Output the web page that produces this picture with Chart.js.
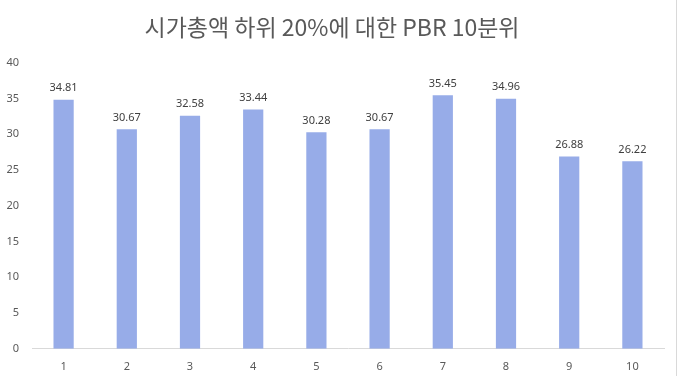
<!DOCTYPE html>
<html>
<head>
<meta charset="utf-8">
<script src="https://cdn.jsdelivr.net/npm/chart.js@4/dist/chart.umd.min.js"></script>
<style>
  html, body { margin: 0; padding: 0; background: #fff; }
  #wrap { position: relative; width: 680px; height: 376px; }
  #edge { position: absolute; left: 676px; top: 0; width: 1px; height: 376px; background: #d9d9d9; }
</style>
</head>
<body>
<div id="wrap">
  <canvas id="grafica" width="680" height="376"></canvas>
  <div id="edge"></div>
</div>
<script>
const titulo = "시가총액 하위 20%에 대한 PBR 10분위";
const deciles = ["1", "2", "3", "4", "5", "6", "7", "8", "9", "10"];
const pbr = [34.81, 30.67, 32.58, 33.44, 30.28, 30.67, 35.45, 34.96, 26.88, 26.22];

// etiquetas sobre cada barra
const etiquetas = {
  id: "etiquetas",
  afterDatasetsDraw(chart) {
    const c = chart.ctx;
    const meta = chart.getDatasetMeta(0);
    c.save();
    c.font = "11px 'Noto Sans'";
    c.fillStyle = "#404040";
    c.textAlign = "center";
    c.textBaseline = "bottom";
    meta.data.forEach((bar, i) => {
      c.fillText(pbr[i].toFixed(2), bar.x, bar.y - 6);
    });
    c.restore();
  }
};

new Chart(document.getElementById("grafica").getContext("2d"), {
  type: "bar",
  data: {
    labels: deciles,
    datasets: [{
      data: pbr,
      backgroundColor: "#97ace8",
      categoryPercentage: 1,
      barPercentage: 0.32
    }]
  },
  options: {
    responsive: false,
    animation: false,
    layout: { padding: { top: 8, right: 16, left: 0, bottom: 0 } },
    plugins: {
      legend: { display: false },
      tooltip: { enabled: false },
      title: {
        display: true,
        text: titulo,
        color: "#595959",
        font: { family: "'Noto Sans CJK KR'", size: 23, weight: "normal" },
        padding: { top: 5, bottom: 22 }
      }
    },
    scales: {
      x: {
        grid: { display: false },
        border: { color: "#d9d9d9" },
        ticks: { color: "#595959", font: { family: "'Noto Sans'", size: 11 }, padding: 3 }
      },
      y: {
        min: 0,
        max: 40,
        afterFit(scale) { scale.width = 32; },
        grid: { display: false },
        border: { display: false },
        ticks: { stepSize: 5, color: "#595959", font: { family: "'Noto Sans'", size: 11 }, padding: 5 }
      }
    }
  },
  plugins: [etiquetas]
});
</script>
</body>
</html>
